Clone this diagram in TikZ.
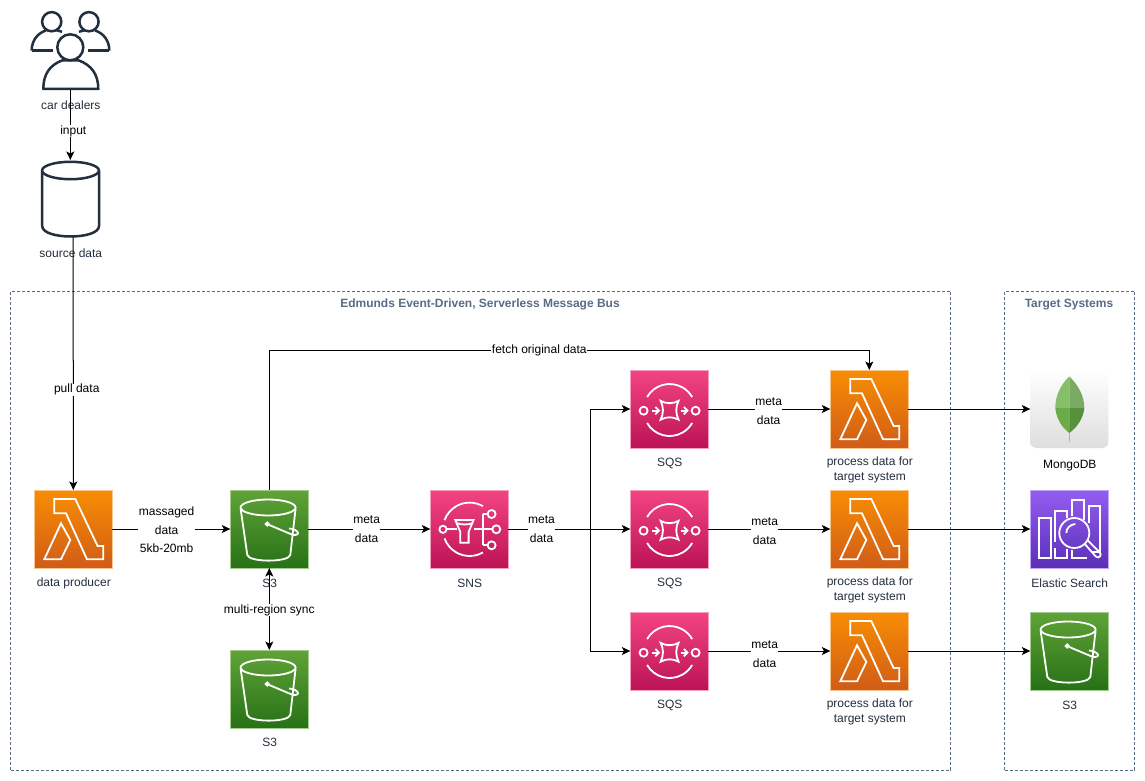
\documentclass[tikz,border=0pt]{standalone}
\usepackage{fontspec}
\setmainfont{Liberation Sans}
\usetikzlibrary{arrows.meta,shapes.geometric,calc}
\definecolor{ink}{HTML}{232F3E}
\definecolor{grp}{HTML}{5A6C86}
\definecolor{edgeorange}{HTML}{FAC48C}
\definecolor{edgegreen}{HTML}{A5CC90}
\definecolor{edgepink}{HTML}{F79DBD}
\definecolor{edgepurple}{HTML}{C4A6F6}
\tikzset{
 x=1pt,y=-1pt,
 capt/.style={font=\fontsize{12}{15}\selectfont,inner sep=0pt,align=center,text=ink},
 lab/.style={font=\fontsize{12}{18.5}\selectfont,inner sep=0.5pt,align=center,fill=white,text=black},
 tip/.tip={Stealth[length=8.5pt,width=8pt,inset=2pt]},
 conn/.style={line width=1pt,draw=black,-tip},
 iconbox/.style={minimum size=78pt,inner sep=0pt,outer sep=0pt,anchor=north west,draw=#1,line width=0.8pt},
 boxorange/.style={iconbox=edgeorange,top color={rgb,255:red,247;green,142;blue,4},bottom color={rgb,255:red,208;green,92;blue,23}},
 boxgreen/.style={iconbox=edgegreen,top color={rgb,255:red,96;green,163;blue,55},bottom color={rgb,255:red,39;green,113;blue,22}},
 boxpink/.style={iconbox=edgepink,top color={rgb,255:red,243;green,68;blue,130},bottom color={rgb,255:red,188;green,19;blue,86}},
 boxpurple/.style={iconbox=edgepurple,top color={rgb,255:red,148;green,93;blue,242},bottom color={rgb,255:red,90;green,48;blue,181}},
 glyph/.style={draw=white,line width=1.8pt,line join=miter,fill=none},
 groupbox/.style={draw=grp,dash pattern=on 3pt off 2pt,line width=0.7pt,fill=none,inner sep=0pt,outer sep=0pt,anchor=north west},
 grouptitle/.style={font=\fontsize{12}{14}\bfseries\selectfont,text=grp,inner sep=0pt},
 person/.style={draw=ink,line width=2.5pt,fill=white},
 personline/.style={draw=ink,line width=2.5pt},
 lamglyph/.pic={
  \draw[glyph] (20,9) -- (41,9) -- (63.3,56) -- (69,56) -- (69,69.3) -- (52.7,69.3) -- (31.7,23.3) -- (20,23.3) -- cycle;
  \draw[glyph] (26.7,33.3) -- (36,50) -- (26.7,69.3) -- (10,69.3) -- cycle;
 },
 sthree/.pic={
  \draw[glyph] (37.8,17.5) ellipse[x radius=27.5,y radius=8];
  \draw[glyph] (10.3,18.5) -- (17,65) .. controls (19,72.5) and (58,72.5) .. (60,65) -- (65.3,18.5);
  \draw[glyph] (37,34) circle[radius=1.6];
  \draw[glyph] (39,35) -- (61,44.3) .. controls (64,45.5) and (68,45) .. (67.7,43) .. controls (67.4,40.5) and (62,38.5) .. (58.7,38.5);
 },
 sqsglyph/.pic={
  \draw[glyph] (16.8,27) arc[start angle=210,end angle=330,radius=26];
  \draw[glyph] (16.8,53) arc[start angle=150,end angle=30,radius=26];
  \draw[glyph] (13.3,40.7) circle[radius=4];
  \draw[glyph] (65.3,40.7) circle[radius=4];
  \draw[glyph] (21.7,40.7) -- (28.5,40.7);
  \draw[glyph] (25,37) -- (28.7,40.7) -- (25,44.4);
  \draw[glyph] (50.3,40.7) -- (57,40.7);
  \draw[glyph] (53.5,37) -- (57.2,40.7) -- (53.5,44.4);
  \draw[glyph] (30.3,30.8) .. controls (36,34) and (42.6,34) .. (48.3,30.8) .. controls (45.2,36.5) and (45.2,44) .. (48.3,49.7) .. controls (42.6,46.5) and (36,46.5) .. (30.3,49.7) .. controls (33.4,44) and (33.4,36.5) .. (30.3,30.8) -- cycle;
 },
 snsglyph/.pic={
  \draw[glyph] (52.65,16.2) arc[start angle=-60,end angle=-160,radius=26.7];
  \draw[glyph] (52.65,62.4) arc[start angle=60,end angle=160,radius=26.7];
  \draw[glyph] (12.7,39.3) circle[radius=3.6];
  \draw[glyph] (16.3,39.3) -- (26.5,39.3);
  \draw[glyph] (25,30) -- (43.3,30) -- (38.3,42) -- (38.3,52.7) -- (30,52.7) -- (30,42) -- cycle;
  \draw[glyph] (26,33) .. controls (31,35) and (38,35) .. (42.5,33);
  \draw[glyph] (43.3,39.3) -- (62,39.3);
  \draw[glyph] (52.3,24) -- (52.3,55.3);
  \draw[glyph] (52.3,24) -- (57.3,24);
  \draw[glyph] (52.3,55.3) -- (57.3,55.3);
  \draw[glyph] (61.3,24) circle[radius=4];
  \draw[glyph] (66,39.3) circle[radius=4];
  \draw[glyph] (61.3,55.3) circle[radius=4];
 },
 esglyph/.pic={
  \draw[glyph] (9,28.3) rectangle (20.7,68.3);
  \draw[glyph] (25,52) -- (25,20.7) -- (36.7,20.7) -- (36.7,28);
  \draw[glyph] (41.7,26) -- (41.7,10) -- (53.3,10) -- (53.3,30);
  \draw[glyph] (58.3,33) -- (58.3,16) -- (70,16) -- (70,61.7) -- (61,61.7);
  \draw[glyph] (25,58) -- (25,68.3) -- (36.7,68.3) -- (36.7,59);
  \draw[glyph] (41.7,60) -- (41.7,68.3) -- (57,68.3);
  \draw[glyph] (44,43) circle[radius=15];
  \draw[glyph] (45,34) .. controls (40,34.5) and (36,38) .. (36,43);
  \draw[glyph] (54.5,54) -- (65.5,66.5) .. controls (68.5,69) and (72,65.5) .. (69.5,62.5) -- (57.5,50.5);
 },
}
\begin{document}
\begin{tikzpicture}
\useasboundingbox (0,0) rectangle (1145,781);
\fill[white] (0,0) rectangle (1145,781);
% groups
\node[groupbox,minimum width=940pt,minimum height=479pt] (busgroup) at (10.5,291) {};
\node[groupbox,minimum width=130pt,minimum height=479pt] (targetgroup) at (1004.5,291) {};
\node[grouptitle] (bustitle) at (480,304.7) {Edmunds Event-Driven, Serverless Message Bus};
\node[grouptitle] (targettitle) at (1069,304.7) {Target Systems};
% free connector ends
\coordinate (dealers) at (70.3,90);
\coordinate (cylTop) at (70.3,160);
\coordinate (cylBot) at (73.2,237);
\coordinate (trunk) at (590.5,529);
% icons
\node[boxorange] (producer) at (34.3,490) {};
\node[boxgreen] (sa) at (230.3,490) {};
\node[boxpink] (sns) at (430.3,490) {};
\node[boxpink] (qa) at (630.3,370) {};
\node[boxpink] (qb) at (630.3,490) {};
\node[boxpink] (qc) at (630.3,612) {};
\node[boxorange] (la) at (830.3,370) {};
\node[boxorange] (lb) at (830.3,490) {};
\node[boxorange] (lc) at (830.3,612) {};
\node[minimum size=78pt,inner sep=0pt,outer sep=0pt,anchor=north west,rounded corners=6pt,top color=white,bottom color=black!13] (mongo) at (1030.3,370) {};
\node[boxpurple] (es) at (1030.3,490) {};
\node[boxgreen] (sc) at (1030.3,612) {};
\node[boxgreen] (sb) at (230.3,650) {};
\foreach \n in {producer,la,lb,lc} \pic at (\n.north west) {lamglyph};
\foreach \n in {sa,sb,sc} \pic at (\n.north west) {sthree};
\foreach \n in {qa,qb,qc} \pic at (\n.north west) {sqsglyph};
\pic at (sns.north west) {snsglyph};
\pic at (es.north west) {esglyph};
% leaf
\begin{scope}[shift={(mongo.north west)}]
 \fill[black!30] (38.2,55) rectangle (39.8,71.5);
 \fill[fill={rgb,255:red,134;green,190;blue,106}] (39,6.5) .. controls (30,15) and (25,26) .. (25,38) -- (39,38) -- cycle;
 \fill[fill={rgb,255:red,122;green,170;blue,100}] (39,6.5) .. controls (48,15) and (54,26) .. (54,38) -- (39,38) -- cycle;
 \fill[fill={rgb,255:red,108;green,172;blue,72}] (25,38) .. controls (26,49) and (32,58) .. (39,63) -- (39,38) -- cycle;
 \fill[fill={rgb,255:red,86;green,146;blue,58}] (54,38) .. controls (53,49) and (46,58) .. (39,63) -- (39,38) -- cycle;
\end{scope}
% people
\begin{scope}[line join=round]
 \draw[personline] (31.7,50.7) .. controls (31.7,40) and (38,33) .. (46,30.5);
 \draw[personline] (31.7,50.7) -- (52.7,50.7);
 \draw[personline] (56,30) -- (62,31.8);
 \draw[person] (51.7,21.7) circle[radius=9.6];
 \draw[personline] (109.3,50.7) .. controls (109.3,40) and (103,33) .. (95,30.5);
 \draw[personline] (109.3,50.7) -- (88.3,50.7);
 \draw[personline] (85,30) -- (79,31.8);
 \draw[person] (89,21.7) circle[radius=9.6];
 \draw[person] (43.3,89) .. controls (43.3,74) and (50,65) .. (62,60.5) -- (79,60.5) .. controls (91,65) and (98.3,74) .. (98.3,89) -- cycle;
 \draw[person] (70.3,47.3) circle[radius=13];
\end{scope}
% cylinder
\draw[person] (42.2,170.5) -- (42.2,226) .. controls (42.2,240) and (99,240) .. (99,226) -- (99,170.5);
\draw[person] (70.5,170.5) ellipse[x radius=28.4,y radius=8.7];
% captions
\node[capt] (capdealers) at (70.8,105) {car dealers};
\node[capt] (capsource) at (70.8,253) {source data};
\node[capt] (capprod) at (73.8,583) {data producer};
\node[capt] (capsa) at (269.8,583) {S3};
\node[capt] (capsb) at (269.8,742) {S3};
\node[capt] (capsns) at (469.8,583) {SNS};
\node[capt] (capqa) at (669.8,463) {SQS};
\node[capt] (capqb) at (669.8,583) {SQS};
\node[capt] (capqc) at (669.8,705) {SQS};
\node[capt] (capla) at (869.8,470) {process data for\\target system};
\node[capt] (caplb) at (869.8,590) {process data for\\target system};
\node[capt] (caplc) at (869.8,712) {process data for\\target system};
\node[capt,text=black] (capmongo) at (1069.8,466) {MongoDB};
\node[capt] (capes) at (1069.8,583) {Elastic Search};
\node[capt] (capsc) at (1069.8,705) {S3};
% connectors
\draw[conn] (dealers) -- (cylTop) node[lab,pos=0.57,xshift=3pt,yshift=-1pt] (linput) {input};
\draw[conn] (cylBot) -- (producer.north) node[lab,pos=0.6,xshift=3.5pt,yshift=-1pt] (lpull) {pull data};
\draw[conn] (producer.east) -- (sa.west) node[lab,midway,xshift=-4.7pt,yshift=-1pt] (lmass) {massaged\\data\\5kb-20mb};
\draw[conn] (sa.east) -- (sns.west) node[lab,midway,xshift=-2.7pt,yshift=0pt] (lm1) {meta\\data};
\draw[conn] (sns.east) -- (qb.west) node[lab,pos=0.27,xshift=0.3pt,yshift=0pt] (lm2) {meta\\data};
\draw[conn] (trunk) |- (qa.west);
\draw[conn] (trunk) |- (qc.west);
\draw[conn] (qa.east) -- (la.west) node[lab,midway,xshift=-0.7pt,yshift=-2pt] (lm3) {meta\\data};
\draw[conn] (qb.east) -- (lb.west) node[lab,midway,xshift=-4.7pt,yshift=-2pt] (lm4) {meta\\data};
\draw[conn] (qc.east) -- (lc.west) node[lab,midway,xshift=-4.7pt,yshift=-3pt] (lm5) {meta\\data};
\draw[conn] (la.east) -- (mongo.west);
\draw[conn] (lb.east) -- (es.west);
\draw[conn] (lc.east) -- (sc.west);
\draw[conn] (sa.north) -- ++(0,-140) -| (la.north) node[lab,pos=0.225,yshift=-0.5pt] (lfetch) {fetch original data};
\draw[line width=1pt,draw=black,tip-tip] (sa.south) -- (sb.north) node[lab,midway,yshift=-1pt] (lsync) {multi-region sync};
\end{tikzpicture}
\end{document}
